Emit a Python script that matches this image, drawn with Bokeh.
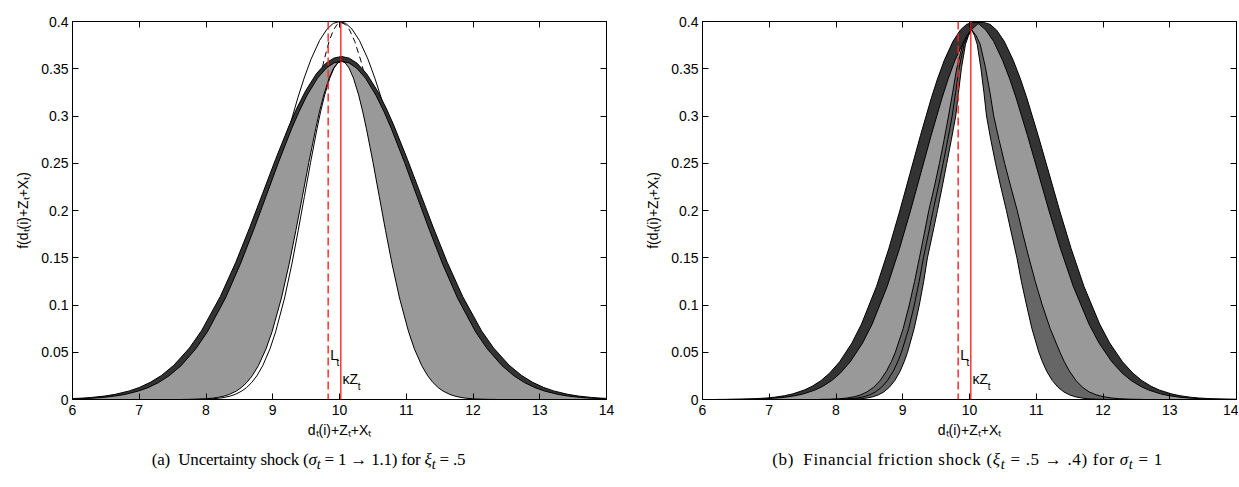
from bokeh.plotting import figure
from bokeh.models import FixedTicker, LinearAxis, Span, Div, Range1d
from bokeh.layouts import row, column
from bokeh.embed import file_html
from bokeh.resources import INLINE
from bokeh.core.properties import value

# ---------------- data ----------------
X_TICKS = [6, 7, 8, 9, 10, 11, 12, 13, 14]
Y_TICKS = [0, 0.05, 0.1, 0.15, 0.2, 0.25, 0.3, 0.35, 0.4]
Y_TICK_LABELS = ["0", "0.05", "0.1", "0.15", "0.2", "0.25", "0.3", "0.35", "0.4"]
X_LABEL = "d\u209c(i)+Z\u209c+X\u209c"
Y_LABEL = "f(d\u209c(i)+Z\u209c+X\u209c)"
L_T = 9.83
KAPPA_Z = 10.02
CAPTION_A = "(a)&ensp;Uncertainty shock (<i>\u03c3<sub>t</sub></i> = 1 \u2192 1.1) for <i>\u03be<sub>t</sub></i> = .5"
CAPTION_B = "(b)&ensp;Financial friction shock (<i>\u03be<sub>t</sub></i> = .5 \u2192 .4) for <i>\u03c3<sub>t</sub></i> = 1"

# panel (a): density levels (top -> bottom) and left/right branch positions
A_OUT_Y = [0.363, 0.3612, 0.3557, 0.3449, 0.3267, 0.3086, 0.2904, 0.2541, 0.2178, 0.1815,
           0.1452, 0.1089, 0.0726, 0.05445, 0.0363, 0.02541, 0.01815, 0.0127, 0.00908,
           0.00545, 0.00363, 0.00218, 0.00145, 0.00073, 0.00036, 0.000145, 0.000073]
A_OUT_L = [10.03, 9.913, 9.795, 9.655, 9.493, 9.363, 9.248, 9.042, 8.847, 8.652,
           8.446, 8.214, 7.931, 7.751, 7.519, 7.332, 7.166, 7.000, 6.852,
           6.639, 6.479, 6.287, 6.142, 5.905, 5.681, 5.402, 5.201]
A_OUT_R = [10.03, 10.147, 10.265, 10.405, 10.567, 10.697, 10.812, 11.018, 11.213, 11.408,
           11.614, 11.846, 12.129, 12.309, 12.541, 12.728, 12.894, 13.060, 13.208,
           13.421, 13.581, 13.773, 13.918, 14.155, 14.379, 14.658, 14.859]
A_IN_Y = [0.358, 0.3562, 0.3508, 0.3401, 0.3222, 0.3043, 0.2864, 0.2506, 0.2148, 0.179,
          0.1432, 0.1074, 0.0716, 0.0537, 0.0358, 0.02506, 0.0179, 0.01253, 0.00895,
          0.00537, 0.00358, 0.00215, 0.00143, 0.00072, 0.00036, 0.000143, 0.000072]
A_IN_L = [10.03, 9.918, 9.805, 9.671, 9.516, 9.392, 9.282, 9.084, 8.898, 8.711,
          8.514, 8.292, 8.021, 7.848, 7.627, 7.447, 7.289, 7.130, 6.988,
          6.784, 6.631, 6.447, 6.308, 6.081, 5.867, 5.600, 5.407]
A_IN_R = [10.03, 10.142, 10.255, 10.389, 10.544, 10.669, 10.778, 10.976, 11.162, 11.349,
          11.546, 11.768, 12.039, 12.212, 12.434, 12.613, 12.771, 12.930, 13.072,
          13.276, 13.429, 13.613, 13.752, 13.979, 14.193, 14.461, 14.653]
A_CORE_L_OUT = [10.03, 9.972, 9.913, 9.844, 9.764, 9.699, 9.643, 9.540, 9.444, 9.347,
                9.245, 9.130, 8.989, 8.900, 8.785, 8.692, 8.610, 8.528, 8.455,
                8.349, 8.270, 8.175, 8.103, 7.985, 7.874, 7.736, 7.636]
A_CORE_L_IN = [10.03, 9.975, 9.919, 9.854, 9.778, 9.716, 9.663, 9.566, 9.474, 9.382,
               9.286, 9.177, 9.043, 8.959, 8.850, 8.762, 8.684, 8.606, 8.536,
               8.436, 8.361, 8.271, 8.202, 8.091, 7.986, 7.854, 7.760]
A_CORE_R = [10.03, 10.086, 10.143, 10.209, 10.287, 10.349, 10.404, 10.503, 10.596, 10.689,
            10.788, 10.899, 11.035, 11.121, 11.232, 11.322, 11.401, 11.480, 11.551,
            11.653, 11.730, 11.821, 11.891, 12.004, 12.112, 12.245, 12.341]
A_THIN_Y = [0.4, 0.398, 0.392, 0.38, 0.36, 0.34, 0.32, 0.28, 0.24, 0.2, 0.16]
A_THIN_L = [10.0, 9.907, 9.813, 9.702, 9.573, 9.470, 9.379, 9.215, 9.060, 8.905, 8.741]
A_THIN_R = [10.0, 10.093, 10.187, 10.298, 10.427, 10.530, 10.621, 10.785, 10.940, 11.095, 11.259]
A_DASH_Y = [0.399, 0.397, 0.391, 0.379, 0.359, 0.339, 0.319, 0.279]
A_DASH_L = [10.02, 9.965, 9.909, 9.844, 9.768, 9.706, 9.653, 9.555]
A_DASH_R = [10.02, 10.085, 10.151, 10.228, 10.318, 10.391, 10.454, 10.569]

# panel (b)
B_OUT_Y = [0.399, 0.397, 0.391, 0.379, 0.359, 0.3392, 0.3192, 0.2793, 0.2394, 0.1995,
           0.1596, 0.1197, 0.0798, 0.05985, 0.0399, 0.02793, 0.01995, 0.01397, 0.00998,
           0.00599, 0.00399, 0.00239, 0.0016, 0.0008, 0.0004, 0.00016, 0.00008]
B_OUT_L = [10.05, 9.957, 9.863, 9.752, 9.623, 9.520, 9.429, 9.265, 9.110, 8.955,
           8.791, 8.607, 8.382, 8.239, 8.054, 7.905, 7.774, 7.642, 7.524,
           7.355, 7.228, 7.075, 6.960, 6.771, 6.593, 6.371, 6.212]
B_OUT_R = [10.21, 10.307, 10.405, 10.521, 10.655, 10.763, 10.858, 11.029, 11.191, 11.352,
           11.523, 11.715, 11.950, 12.100, 12.292, 12.447, 12.584, 12.722, 12.845,
           13.021, 13.154, 13.313, 13.433, 13.630, 13.815, 14.047, 14.214]
B_IN_Y = [0.3976, 0.397, 0.391, 0.379, 0.359, 0.3392, 0.3192, 0.2793, 0.2394, 0.1995,
          0.1596, 0.1197, 0.0798, 0.05985, 0.0399, 0.02793, 0.01995, 0.01397, 0.00998,
          0.00599, 0.00399, 0.00239, 0.0016, 0.0008, 0.0004, 0.00016, 0.00008]
B_IN_L = [10.13, 10.117, 10.023, 9.912, 9.783, 9.680, 9.589, 9.425, 9.270, 9.115,
          8.951, 8.767, 8.542, 8.399, 8.214, 8.065, 7.934, 7.802, 7.684,
          7.515, 7.388, 7.235, 7.120, 6.931, 6.753, 6.531, 6.372]
B_IN_R = [10.13, 10.147, 10.245, 10.361, 10.495, 10.603, 10.698, 10.869, 11.031, 11.192,
          11.363, 11.555, 11.790, 11.940, 12.132, 12.287, 12.424, 12.562, 12.685,
          12.861, 12.994, 13.153, 13.273, 13.470, 13.655, 13.887, 14.054]
B_CORE_Y = [0.3915, 0.385, 0.376, 0.351, 0.325, 0.300, 0.275, 0.250, 0.225, 0.200,
            0.175, 0.150, 0.125, 0.100, 0.075, 0.050, 0.040, 0.030, 0.020, 0.013,
            0.008, 0.005, 0.003, 0.0015, 0.0008, 0.0003, 0.0001]
B_CORE_L1 = [10.03, 9.96, 9.90, 9.81, 9.748, 9.686, 9.620, 9.55, 9.473, 9.39,
             9.321, 9.25, 9.177, 9.098, 9.006, 8.889, 8.829, 8.756, 8.660, 8.565,
             8.464, 8.373, 8.279, 8.159, 8.056, 7.906, 7.750]
B_CORE_L2 = [10.03, 9.972, 9.92, 9.845, 9.792, 9.74, 9.674, 9.605, 9.532, 9.455,
             9.384, 9.31, 9.246, 9.173, 9.089, 8.981, 8.926, 8.859, 8.770, 8.683,
             8.590, 8.506, 8.420, 8.309, 8.215, 8.077, 7.933]
B_CORE_L3 = [10.03, 9.985, 9.94, 9.88, 9.835, 9.794, 9.728, 9.66, 9.591, 9.52,
             9.446, 9.37, 9.314, 9.248, 9.171, 9.072, 9.022, 8.961, 8.880, 8.800,
             8.716, 8.639, 8.560, 8.459, 8.373, 8.247, 8.116]
B_CORE_R1 = [10.03, 10.075, 10.115, 10.17, 10.216, 10.255, 10.319, 10.39, 10.469, 10.553,
             10.631, 10.71, 10.777, 10.854, 10.935, 11.039, 11.092, 11.156, 11.241, 11.325,
             11.414, 11.495, 11.578, 11.684, 11.775, 11.907, 12.046]
B_CORE_R2 = [10.03, 10.10, 10.16, 10.24, 10.306, 10.363, 10.442, 10.526, 10.619, 10.715,
             10.800, 10.89, 10.985, 11.090, 11.209, 11.355, 11.420, 11.497, 11.596, 11.692,
             11.792, 11.895, 12.000, 12.135, 12.251, 12.420, 12.596]

# ---------------- styles ----------------
DARK = "#333333"
LIGHT = "#999999"
MID = "#666666"
SANS = "Liberation Sans"


def bell(xl, xr, y):
    xs = [xl[-1]] + list(xl[::-1]) + list(xr) + [xr[-1]]
    ys = [0.0] + list(y[::-1]) + list(y) + [0.0]
    return xs, ys


def curve(xl, xr, y):
    return list(xl[::-1]) + list(xr), list(y[::-1]) + list(y)


def make_fig(width, border_left, border_right):
    p = figure(width=width, height=442, x_range=Range1d(6, 14), y_range=Range1d(0, 0.4),
               output_backend="svg", toolbar_location=None,
               min_border_left=border_left, min_border_right=border_right,
               min_border_top=21, min_border_bottom=43)
    p.grid.visible = False
    p.background_fill_color = "white"
    p.border_fill_color = "white"
    p.outline_line_color = "black"
    p.outline_line_width = 1
    p.xaxis.ticker = FixedTicker(ticks=X_TICKS)
    p.yaxis.ticker = FixedTicker(ticks=Y_TICKS)
    p.yaxis.major_label_overrides = dict(zip(Y_TICKS, Y_TICK_LABELS))
    for ax in (p.xaxis[0], p.yaxis[0]):
        ax.major_tick_in = 6
        ax.major_tick_out = 0
        ax.minor_tick_in = 0
        ax.minor_tick_out = 0
        ax.axis_line_color = "black"
        ax.major_tick_line_color = "black"
        ax.major_label_text_font = SANS
        ax.major_label_text_font_size = "14px"
        ax.major_label_text_color = "black"
        ax.axis_label_text_font = SANS
        ax.axis_label_text_font_size = "14px"
        ax.axis_label_text_font_style = "normal"
        ax.axis_label_text_color = "black"
    p.xaxis.major_label_standoff = 5
    p.xaxis.axis_label_standoff = 4
    p.yaxis.major_label_standoff = 4
    p.yaxis.axis_label_standoff = 7
    p.xaxis.axis_label = X_LABEL
    p.yaxis.axis_label = Y_LABEL
    for ticks, side in ((X_TICKS, "above"), (Y_TICKS, "right")):
        ax = LinearAxis(ticker=FixedTicker(ticks=ticks),
                        major_label_text_color=None, major_label_text_alpha=0,
                        major_label_text_font_size="1px",
                        major_tick_in=6, major_tick_out=0, minor_tick_in=0, minor_tick_out=0,
                        major_label_standoff=0, axis_line_color="black")
        p.add_layout(ax, side)
    return p


def markers(p):
    p.add_layout(Span(location=L_T, dimension="height", line_color="#ff2020",
                      line_dash="8 4", line_width=1.4))
    p.add_layout(Span(location=KAPPA_Z, dimension="height", line_color="#ff0000",
                      line_width=1.2))
    p.text(x=[L_T + 0.03], y=[0.047], text=["L"], text_font=value(SANS),
           text_font_size="14px", text_color="black", text_baseline="alphabetic")
    p.text(x=[L_T + 0.125], y=[0.039], text=["t"], text_font=value(SANS),
           text_font_size="10px", text_color="black", text_baseline="alphabetic")
    p.text(x=[KAPPA_Z + 0.025], y=[0.0215], text=["\u03baZ"], text_font=value(SANS),
           text_font_size="14px", text_color="black", text_baseline="alphabetic")
    p.text(x=[KAPPA_Z + 0.255], y=[0.0135], text=["t"], text_font=value(SANS),
           text_font_size="10px", text_color="black", text_baseline="alphabetic")


# ---------------- panel (a) ----------------
pa = make_fig(618, 72, 12)
xs, ys = curve(A_THIN_L, A_THIN_R, A_THIN_Y)
pa.line(xs, ys, line_color="black", line_width=1)
xs, ys = curve(A_DASH_L, A_DASH_R, A_DASH_Y)
pa.line(xs, ys, line_color="black", line_width=1, line_dash="6 4")
xs, ys = bell(A_OUT_L, A_OUT_R, A_OUT_Y)
pa.patch(xs, ys, fill_color=DARK, line_color="black", line_width=1)
xs, ys = bell(A_IN_L, A_IN_R, A_IN_Y)
pa.patch(xs, ys, fill_color=LIGHT, line_color="black", line_width=1)
xs, ys = bell(A_CORE_L_OUT, A_CORE_R, A_IN_Y)
pa.patch(xs, ys, fill_color="white", line_color="black", line_width=1)
pa.line(A_CORE_L_IN, A_IN_Y, line_color="black", line_width=1)
markers(pa)

# ---------------- panel (b) ----------------
pb = make_fig(600, 64, 2)
xs, ys = bell(B_OUT_L, B_OUT_R, B_OUT_Y)
pb.patch(xs, ys, fill_color=DARK, line_color="black", line_width=1)
xs, ys = bell(B_IN_L, B_IN_R, B_IN_Y)
pb.patch(xs, ys, fill_color=LIGHT, line_color="black", line_width=1)
xs, ys = bell(B_CORE_L1, B_CORE_R2, B_CORE_Y)
pb.patch(xs, ys, fill_color=MID, line_color="black", line_width=1)
xs, ys = bell(B_CORE_L3, B_CORE_R1, B_CORE_Y)
pb.patch(xs, ys, fill_color="white", line_color="black", line_width=1)
pb.line(B_CORE_L2, B_CORE_Y, line_color="black", line_width=1)
markers(pb)

cap_style = ("font-family:'Liberation Serif','DejaVu Serif',serif;font-size:17px;color:#000;"
             "text-align:center;white-space:nowrap;position:relative;top:6px;")
div_a = Div(text=f'<div style="{cap_style}width:617px;letter-spacing:-0.2px;">{CAPTION_A}</div>',
            width=618, height=45, margin=(0, 0, 0, 0))
div_b = Div(text=f'<div style="{cap_style}width:541px;margin-left:59px;letter-spacing:0.7px;">{CAPTION_B}</div>',
            width=600, height=45, margin=(0, 0, 0, 0))

layout = row(column(pa, div_a, spacing=0), column(pb, div_b, spacing=0), spacing=20)

with open("out.html", "w") as f:
    f.write(file_html(layout, INLINE, title="densities"))
